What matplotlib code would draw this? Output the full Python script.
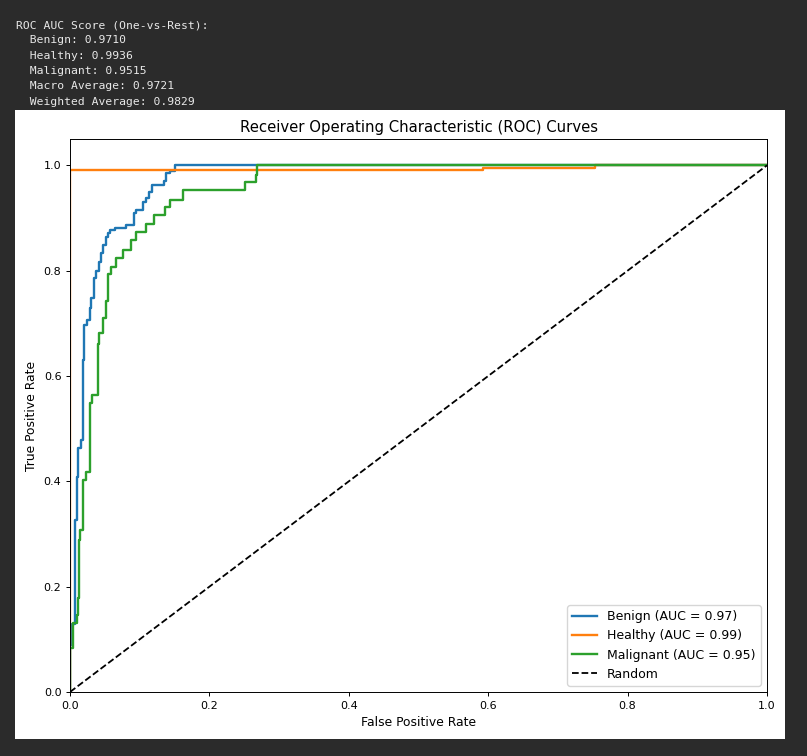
import matplotlib
matplotlib.use('Agg')
import matplotlib.pyplot as plt
from matplotlib.patches import Rectangle

# printed scores above the figure
score_lines = ['ROC AUC Score (One-vs-Rest):',
               '  Benign: 0.9710',
               '  Healthy: 0.9936',
               '  Malignant: 0.9515',
               '  Macro Average: 0.9721',
               '  Weighted Average: 0.9829']

# ROC curves (fpr at each vertical jump, tpr reached)
benign_fpr = [0, 0, 0.003, 0.007, 0.0096, 0.012, 0.0155, 0.019, 0.0205, 0.024, 0.028, 0.030,
              0.035, 0.037, 0.042, 0.045, 0.048, 0.051, 0.054, 0.057, 0.065, 0.080, 0.092,
              0.095, 0.105, 0.109, 0.113, 0.118, 0.135, 0.138, 0.143, 0.150, 1.0]
benign_tpr = [0, 0.09, 0.13, 0.326, 0.409, 0.463, 0.478, 0.63, 0.696, 0.706, 0.729, 0.748,
              0.786, 0.80, 0.816, 0.833, 0.848, 0.863, 0.871, 0.877, 0.881, 0.886, 0.909,
              0.915, 0.930, 0.938, 0.949, 0.962, 0.970, 0.985, 0.99, 1.0, 1.0]

healthy_fpr = [0, 0, 0.593, 0.753, 1.0]
healthy_tpr = [0, 0.9918, 0.995, 1.0, 1.0]

malignant_fpr = [0, 0, 0.005, 0.0096, 0.012, 0.013, 0.015, 0.018, 0.023, 0.0287, 0.031, 0.040,
                 0.042, 0.047, 0.051, 0.055, 0.059, 0.066, 0.0765, 0.0875, 0.0945, 0.109,
                 0.120, 0.136, 0.143, 0.162, 0.251, 0.267, 0.269, 1.0]
malignant_tpr = [0, 0.083, 0.131, 0.146, 0.178, 0.288, 0.307, 0.402, 0.418, 0.548, 0.564, 0.66,
                 0.681, 0.71, 0.742, 0.793, 0.807, 0.824, 0.839, 0.858, 0.873, 0.889,
                 0.905, 0.921, 0.935, 0.953, 0.968, 0.981, 1.0, 1.0]

class_names = ['Benign', 'Healthy', 'Malignant']
class_auc = [0.97, 0.99, 0.95]
colors = ['#1f77b4', '#ff7f0e', '#2ca02c']

W, H = 807, 756
bg = '#2b2b2b'
fig = plt.figure(figsize=(W / 100, H / 100), dpi=100, facecolor=bg)

# white panel holding the plot
fig.add_artist(Rectangle((15 / W, 1 - 739 / H), 770 / W, 629 / H,
                         transform=fig.transFigure, facecolor='white',
                         edgecolor='none', zorder=0))

for i, line in enumerate(score_lines):
    fig.text(16 / W, 1 - (25 + 15.35 * i) / H, line, family='DejaVu Sans Mono',
             fontsize=8.2, color='#e8e8e8', va='center', ha='left')

ax = fig.add_axes([70 / W, 1 - 692 / H, 697 / W, 553 / H])

curves = [(benign_fpr, benign_tpr), (healthy_fpr, healthy_tpr), (malignant_fpr, malignant_tpr)]
for (fpr, tpr), name, auc, c in zip(curves, class_names, class_auc, colors):
    ax.step(fpr, tpr, where='post', color=c, lw=1.7, label=f'{name} (AUC = {auc:.2f})')

ax.plot([0, 1], [0, 1], 'k--', lw=1.3, label='Random')

ax.set_xlim(0, 1)
ax.set_ylim(0, 1.05)
ax.set_xticks([0, 0.2, 0.4, 0.6, 0.8, 1.0])
ax.set_yticks([0, 0.2, 0.4, 0.6, 0.8, 1.0])
ax.tick_params(labelsize=8, length=3.1, width=0.7, pad=3.1)
for s in ax.spines.values():
    s.set_linewidth(0.7)
ax.set_xlabel('False Positive Rate', fontsize=8.9, labelpad=4)
ax.set_ylabel('True Positive Rate', fontsize=8.9, labelpad=4)
ax.set_title('Receiver Operating Characteristic (ROC) Curves', fontsize=10.7, pad=5.3)
ax.legend(loc='lower right', fontsize=9)

fig.savefig('out.png', dpi=100, facecolor=bg)
